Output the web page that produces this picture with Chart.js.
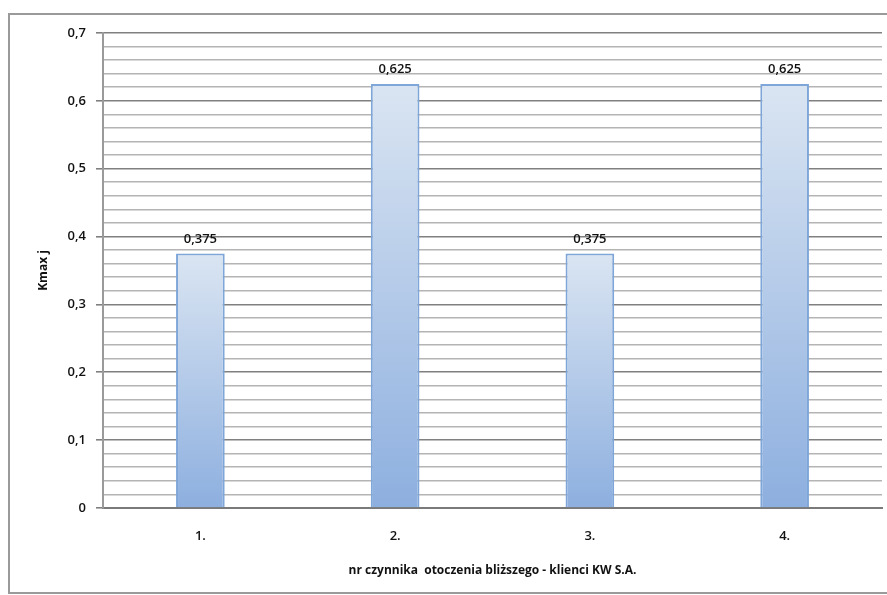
<!DOCTYPE html>
<html>
<head>
<meta charset="utf-8">
<script src="https://cdn.jsdelivr.net/npm/chart.js@4"></script>
<style>
  html, body { margin: 0; padding: 0; background: #ffffff; }
  #wrap { position: relative; width: 887px; height: 595px; }
</style>
</head>
<body>
<div id="wrap"><canvas id="kmaxChart"></canvas></div>
<script>
// dane wykresu
const categories = ['1.', '2.', '3.', '4.'];
const kmaxValues = [0.375, 0.625, 0.375, 0.625];
const yMin = 0;
const yMax = 0.7;
const yStep = 0.02;   // linie pomocnicze co 0,02
const xTitle = 'nr czynnika  otoczenia bliższego - klienci KW S.A.';
const yTitle = 'Kmax j';

function formatNum(v) {
    if (Math.abs(v) < 1e-9) return '0';
    return String(v).replace('.', ',');
}

function isMajor(v) {
    return Math.round(v * 100) % 10 === 0;
}

// ramka wykresu
const framePlugin = {
    id: 'frame',
    beforeDraw(chart) {
        const c = chart.ctx;
        c.save();
        c.fillStyle = '#ffffff';
        c.fillRect(0, 0, chart.width, chart.height);
        c.strokeStyle = '#9a9a9a';
        c.lineWidth = 2;
        c.strokeRect(9, 14, chart.width, chart.height - 16);
        c.restore();
    }
};

// etykiety danych nad słupkami
const valueLabels = {
    id: 'valueLabels',
    afterDatasetsDraw(chart) {
        const c = chart.ctx;
        const meta = chart.getDatasetMeta(0);
        c.save();
        c.font = '600 13px "Open Sans"';
        c.fillStyle = '#111111';
        c.textAlign = 'center';
        c.textBaseline = 'bottom';
        meta.data.forEach(function(bar, i) {
            c.fillText(formatNum(kmaxValues[i]), bar.x, bar.y - 8);
        });
        c.restore();
    }
};

const ctx = document.getElementById('kmaxChart').getContext('2d');

new Chart(ctx, {
    type: 'bar',
    data: {
        labels: categories,
        datasets: [{
            data: kmaxValues,
            backgroundColor: function(context) {
                const chart = context.chart;
                if (!chart.chartArea) return '#a9c0e4';
                const y = chart.scales.y;
                const top = y.getPixelForValue(context.raw);
                const bottom = y.getPixelForValue(0);
                const g = chart.ctx.createLinearGradient(0, top, 0, bottom);
                g.addColorStop(0, '#dae5f2');
                g.addColorStop(1, '#8dafdf');
                return g;
            },
            borderColor: '#7fa6d8',
            borderWidth: 2,
            barPercentage: 0.25,
            categoryPercentage: 1.0
        }]
    },
    options: {
        responsive: true,
        maintainAspectRatio: false,
        animation: false,
        layout: {
            padding: { left: 0, right: 5, top: 33, bottom: 0 }
        },
        plugins: {
            legend: { display: false },
            tooltip: { enabled: false }
        },
        scales: {
            x: {
                grid: { display: false },
                border: { color: '#7a7a7a', width: 2 },
                ticks: {
                    color: '#111111',
                    font: { family: 'Open Sans', size: 13, weight: '600' },
                    padding: 12
                },
                title: {
                    display: true,
                    text: xTitle,
                    color: '#111111',
                    font: { family: 'Open Sans', size: 12, weight: 'bold' },
                    padding: { top: 0, bottom: 17 }
                },
                afterFit: function(scale) { scale.height = 87; }
            },
            y: {
                min: yMin,
                max: yMax,
                border: { color: '#9a9a9a', width: 2 },
                grid: {
                    color: function(c) { return isMajor(c.tick.value) ? '#808080' : '#b4b4b4'; },
                    lineWidth: 1.6,
                    tickLength: 7,
                    tickColor: function(c) { return isMajor(c.tick.value) ? '#808080' : 'rgba(0,0,0,0)'; }
                },
                ticks: {
                    stepSize: yStep,
                    autoSkip: false,
                    padding: 10,
                    color: '#111111',
                    font: { family: 'Open Sans', size: 13, weight: '600' },
                    callback: function(v) {
                        return isMajor(v) ? formatNum(Math.round(v * 10) / 10) : '';
                    }
                },
                title: {
                    display: true,
                    text: yTitle,
                    color: '#111111',
                    font: { family: 'Open Sans', size: 12, weight: 'bold' },
                    padding: { top: 36, bottom: 0 }
                },
                afterFit: function(scale) { scale.width = 103; }
            }
        }
    },
    plugins: [framePlugin, valueLabels]
});
</script>
</body>
</html>
